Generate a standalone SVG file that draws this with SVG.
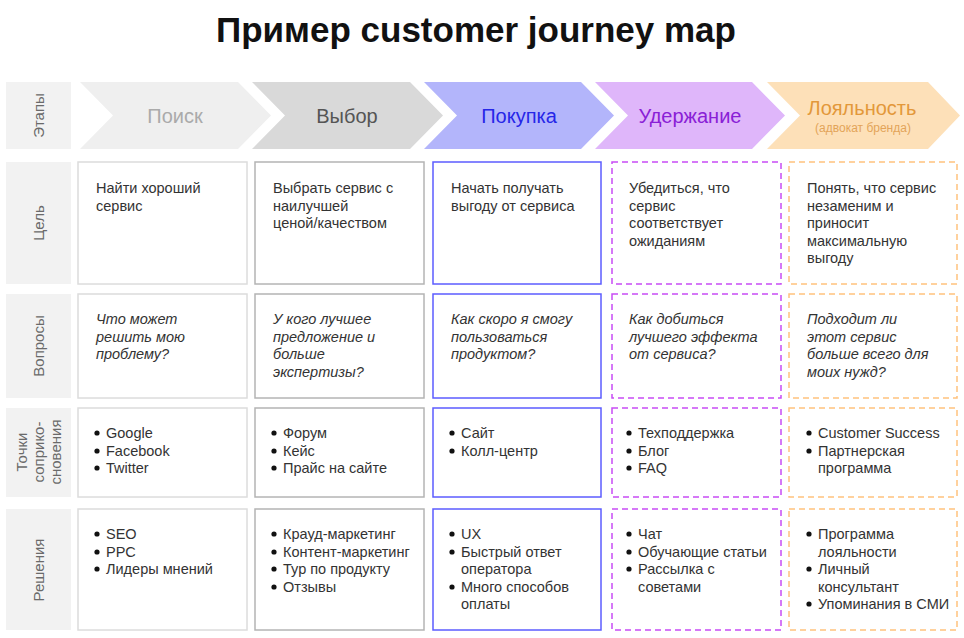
<svg xmlns="http://www.w3.org/2000/svg" width="964" height="638" viewBox="0 0 964 638">
<style>
text{font-family:"Liberation Sans",Arial,sans-serif}
.title{font-size:35px;font-weight:bold;fill:#111;text-anchor:middle}
.lbl{fill:#f2f2f2}
.lt{font-size:15px;fill:#6a6a6a;text-anchor:middle}
.st{font-size:20px;text-anchor:middle}
.c{fill:#fff;stroke-width:1.5}
.c1{stroke:#dcdcdc}
.c2{stroke:#b4b4b4}
.c3{stroke:#5c5cff}
.c4{stroke:#c84cf5;stroke-dasharray:6 4}
.c5{stroke:#ffc27e;stroke-dasharray:6 4}
.t{font-size:14.5px;fill:#333}
.i{font-style:italic}
.b{fill:#111}
</style>
<rect width="964" height="638" fill="#fff"/>
<text class="title" x="476" y="42">Пример customer journey map</text>

<g id="labels">
<rect class="lbl" x="6" y="82" width="65" height="67"/>
<text class="lt" transform="translate(44,115.5) rotate(-90)">Этапы</text>
<rect class="lbl" x="6" y="162" width="65" height="122"/>
<text class="lt" transform="translate(44,223) rotate(-90)">Цель</text>
<rect class="lbl" x="6" y="294" width="65" height="104"/>
<text class="lt" transform="translate(44,346) rotate(-90)">Вопросы</text>
<rect class="lbl" x="6" y="408" width="65" height="89"/>
<text class="lt" transform="translate(27,452) rotate(-90)">Точки</text>
<text class="lt" transform="translate(44,452) rotate(-90)">соприко-</text>
<text class="lt" transform="translate(61,452) rotate(-90)">сновения</text>
<rect class="lbl" x="6" y="509" width="65" height="121"/>
<text class="lt" transform="translate(44,570) rotate(-90)">Решения</text>
</g>

<g id="stage-poisk">
<polygon points="80,82 238,82 271,115.5 238,149 80,149 113,115.5" fill="#efefef"/>
<text class="st" x="175" y="123" fill="#aaaaaa">Поиск</text>
</g>
<g id="stage-vybor">
<polygon points="252,82 410,82 443,115.5 410,149 252,149 285,115.5" fill="#d9d9d9"/>
<text class="st" x="347" y="123" fill="#555">Выбор</text>
</g>
<g id="stage-pokupka">
<polygon points="424,82 581,82 614,115.5 581,149 424,149 457,115.5" fill="#b3b5fb"/>
<text class="st" x="519" y="123" fill="#2626e8">Покупка</text>
</g>
<g id="stage-uderzhanie">
<polygon points="595,82 752,82 785,115.5 752,149 595,149 628,115.5" fill="#dfb6fa"/>
<text class="st" x="690" y="123" fill="#8a20d6">Удержание</text>
</g>
<g id="stage-loyalnost">
<polygon points="767,82 928,82 960,115.5 928,149 767,149 800,115.5" fill="#fde0b8"/>
<text class="st" x="862" y="115" fill="#e3983a">Лояльность</text>
<text x="863" y="132" font-size="12" fill="#e3a458" text-anchor="middle">(адвокат бренда)</text>
</g>

<!-- Цель -->
<g id="goal-1">
<rect class="c c1" x="78" y="162" width="169" height="122"/>
<text class="t" x="96" y="193">Найти хороший</text>
<text class="t" x="96" y="211">сервис</text>
</g>
<g id="goal-2">
<rect class="c c2" x="255" y="162" width="169" height="122"/>
<text class="t" x="273" y="193">Выбрать сервис с</text>
<text class="t" x="273" y="211">наилучшей</text>
<text class="t" x="273" y="228">ценой/качеством</text>
</g>
<g id="goal-3">
<rect class="c c3" x="433" y="162" width="168" height="122"/>
<text class="t" x="451" y="193">Начать получать</text>
<text class="t" x="451" y="211">выгоду от сервиса</text>
</g>
<g id="goal-4">
<rect class="c c4" x="612" y="162" width="169" height="122"/>
<text class="t" x="629" y="193">Убедиться, что</text>
<text class="t" x="629" y="211">сервис</text>
<text class="t" x="629" y="228">соответствует</text>
<text class="t" x="629" y="246">ожиданиям</text>
</g>
<g id="goal-5">
<rect class="c c5" x="789" y="162" width="168" height="122"/>
<text class="t" x="807" y="193">Понять, что сервис</text>
<text class="t" x="807" y="211">незаменим и</text>
<text class="t" x="807" y="228">приносит</text>
<text class="t" x="807" y="246">максимальную</text>
<text class="t" x="807" y="263">выгоду</text>
</g>

<!-- Вопросы -->
<g id="q-1">
<rect class="c c1" x="78" y="294" width="169" height="104"/>
<text class="t i" x="96" y="324">Что может</text>
<text class="t i" x="96" y="342">решить мою</text>
<text class="t i" x="96" y="359">проблему?</text>
</g>
<g id="q-2">
<rect class="c c2" x="255" y="294" width="169" height="104"/>
<text class="t i" x="273" y="324">У кого лучшее</text>
<text class="t i" x="273" y="342">предложение и</text>
<text class="t i" x="273" y="359">больше</text>
<text class="t i" x="273" y="377">экспертизы?</text>
</g>
<g id="q-3">
<rect class="c c3" x="433" y="294" width="168" height="104"/>
<text class="t i" x="451" y="324">Как скоро я смогу</text>
<text class="t i" x="451" y="342">пользоваться</text>
<text class="t i" x="451" y="359">продуктом?</text>
</g>
<g id="q-4">
<rect class="c c4" x="612" y="294" width="169" height="104"/>
<text class="t i" x="629" y="324">Как добиться</text>
<text class="t i" x="629" y="342">лучшего эффекта</text>
<text class="t i" x="629" y="359">от сервиса?</text>
</g>
<g id="q-5">
<rect class="c c5" x="789" y="294" width="168" height="104"/>
<text class="t i" x="807" y="324">Подходит ли</text>
<text class="t i" x="807" y="342">этот сервис</text>
<text class="t i" x="807" y="359">больше всего для</text>
<text class="t i" x="807" y="377">моих нужд?</text>
</g>

<!-- Точки соприкосновения -->
<g id="tp-1">
<rect class="c c1" x="78" y="408" width="169" height="89"/>
<circle class="b" cx="97" cy="433" r="2.6"/><text class="t" x="106" y="438">Google</text>
<circle class="b" cx="97" cy="451" r="2.6"/><text class="t" x="106" y="456">Facebook</text>
<circle class="b" cx="97" cy="468" r="2.6"/><text class="t" x="106" y="473">Twitter</text>
</g>
<g id="tp-2">
<rect class="c c2" x="255" y="408" width="169" height="89"/>
<circle class="b" cx="274" cy="433" r="2.6"/><text class="t" x="283" y="438">Форум</text>
<circle class="b" cx="274" cy="451" r="2.6"/><text class="t" x="283" y="456">Кейс</text>
<circle class="b" cx="274" cy="468" r="2.6"/><text class="t" x="283" y="473">Прайс на сайте</text>
</g>
<g id="tp-3">
<rect class="c c3" x="433" y="408" width="168" height="89"/>
<circle class="b" cx="452" cy="433" r="2.6"/><text class="t" x="461" y="438">Сайт</text>
<circle class="b" cx="452" cy="451" r="2.6"/><text class="t" x="461" y="456">Колл-центр</text>
</g>
<g id="tp-4">
<rect class="c c4" x="612" y="408" width="169" height="89"/>
<circle class="b" cx="629" cy="433" r="2.6"/><text class="t" x="638" y="438">Техподдержка</text>
<circle class="b" cx="629" cy="451" r="2.6"/><text class="t" x="638" y="456">Блог</text>
<circle class="b" cx="629" cy="468" r="2.6"/><text class="t" x="638" y="473">FAQ</text>
</g>
<g id="tp-5">
<rect class="c c5" x="789" y="408" width="168" height="89"/>
<circle class="b" cx="809" cy="433" r="2.6"/><text class="t" x="818" y="438">Customer Success</text>
<circle class="b" cx="809" cy="451" r="2.6"/><text class="t" x="818" y="456">Партнерская</text>
<text class="t" x="818" y="473">программа</text>
</g>

<!-- Решения -->
<g id="sol-1">
<rect class="c c1" x="78" y="509" width="169" height="121"/>
<circle class="b" cx="97" cy="534" r="2.6"/><text class="t" x="106" y="539">SEO</text>
<circle class="b" cx="97" cy="552" r="2.6"/><text class="t" x="106" y="557">PPC</text>
<circle class="b" cx="97" cy="569" r="2.6"/><text class="t" x="106" y="574">Лидеры мнений</text>
</g>
<g id="sol-2">
<rect class="c c2" x="255" y="509" width="169" height="121"/>
<circle class="b" cx="274" cy="534" r="2.6"/><text class="t" x="283" y="539">Крауд-маркетинг</text>
<circle class="b" cx="274" cy="552" r="2.6"/><text class="t" x="283" y="557">Контент-маркетинг</text>
<circle class="b" cx="274" cy="569" r="2.6"/><text class="t" x="283" y="574">Тур по продукту</text>
<circle class="b" cx="274" cy="587" r="2.6"/><text class="t" x="283" y="592">Отзывы</text>
</g>
<g id="sol-3">
<rect class="c c3" x="433" y="509" width="168" height="121"/>
<circle class="b" cx="452" cy="534" r="2.6"/><text class="t" x="461" y="539">UX</text>
<circle class="b" cx="452" cy="552" r="2.6"/><text class="t" x="461" y="557">Быстрый ответ</text>
<text class="t" x="461" y="574">оператора</text>
<circle class="b" cx="452" cy="587" r="2.6"/><text class="t" x="461" y="592">Много способов</text>
<text class="t" x="461" y="609">оплаты</text>
</g>
<g id="sol-4">
<rect class="c c4" x="612" y="509" width="169" height="121"/>
<circle class="b" cx="629" cy="534" r="2.6"/><text class="t" x="638" y="539">Чат</text>
<circle class="b" cx="629" cy="552" r="2.6"/><text class="t" x="638" y="557">Обучающие статьи</text>
<circle class="b" cx="629" cy="569" r="2.6"/><text class="t" x="638" y="574">Рассылка с</text>
<text class="t" x="638" y="592">советами</text>
</g>
<g id="sol-5">
<rect class="c c5" x="789" y="509" width="168" height="121"/>
<circle class="b" cx="809" cy="534" r="2.6"/><text class="t" x="818" y="539">Программа</text>
<text class="t" x="818" y="557">лояльности</text>
<circle class="b" cx="809" cy="569" r="2.6"/><text class="t" x="818" y="574">Личный</text>
<text class="t" x="818" y="592">консультант</text>
<circle class="b" cx="809" cy="604" r="2.6"/><text class="t" x="818" y="609">Упоминания в СМИ</text>
</g>
<g id="connectors"/>
</svg>
